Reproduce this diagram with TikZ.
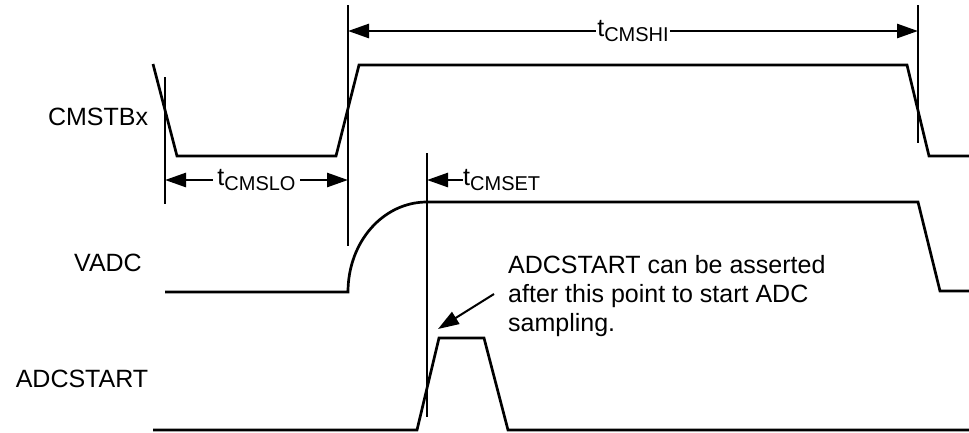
\documentclass[tikz,border=0pt]{standalone}
\usepackage{fontspec}
\setmainfont{Liberation Sans}
\usetikzlibrary{arrows.meta,positioning}
\tikzstyle{signal} = [line width=2.7pt, line join=miter]
\tikzstyle{guide} = [line width=1.2pt]
\tikzstyle{dim} = [line width=2.7pt, >={Triangle[length=21pt,width=14pt]}]
\tikzstyle{lbl} = [font=\fontsize{25}{29}\selectfont, inner sep=0pt]
\newcommand{\tname}[1]{t\raisebox{-5pt}{\fontsize{20}{20}\selectfont #1}}

\begin{document}
\begin{tikzpicture}[x=1pt,y=-1pt]
	\useasboundingbox (0,0) rectangle (969,432);

	% signal names
	\node[lbl, anchor=base] (cmst) at (98,125) {CMSTBx};
	\node[lbl, anchor=base] (vadc) at (108,271) {VADC};
	\node[lbl, anchor=base] (adcs) at (82,387) {ADCSTART};

	% waveforms
	\draw[signal] (153,64) -- (177,156) -- (336,156) -- (359,65)
		-- (907,65) -- (929,156) -- (969,156);
	\draw[signal] (165,292) -- (348,292)
		.. controls (348,242) and (383,202) .. (427,202)
		-- (918,202) -- (940,291) -- (969,291);
	\draw[signal] (153,430) -- (417,430) -- (439,338) -- (484,338)
		-- (508,430) -- (969,430);

	% timing marks
	\draw[guide] (165,77) -- (165,204);
	\draw[guide] (348,5) -- (348,246);
	\draw[guide] (918,5) -- (918,143);
	\draw[guide] (427,153) -- (427,417);

	\coordinate (loL) at (165,180);
	\coordinate (loR) at (348,180);
	\coordinate (hiL) at (348,31);
	\coordinate (hiR) at (918,31);
	\coordinate (settle) at (427,180);

	\draw[dim,<->] (loL) -- node[lbl, fill=white, inner xsep=4pt] (tlo) {\tname{CMSLO}} (loR);
	\draw[dim,<->] (hiL) -- node[lbl, fill=white, inner xsep=1pt] (thi) {\tname{CMSHI}} (hiR);
	\node[lbl, anchor=west] (tset) at (463,180) {\tname{CMSET}};
	\draw[dim,->] (tset.west) -- (settle);

	% note
	\node[lbl, anchor=base west, align=left] (note) at (508,331)
		{ADCSTART can be asserted\\after this point to start ADC\\sampling.};
	\coordinate (noteTail) at (494,294);
	\coordinate (pulseTop) at (438,329);
	\draw[dim, line width=2pt, ->] (noteTail) -- (pulseTop);
\end{tikzpicture}
\end{document}
